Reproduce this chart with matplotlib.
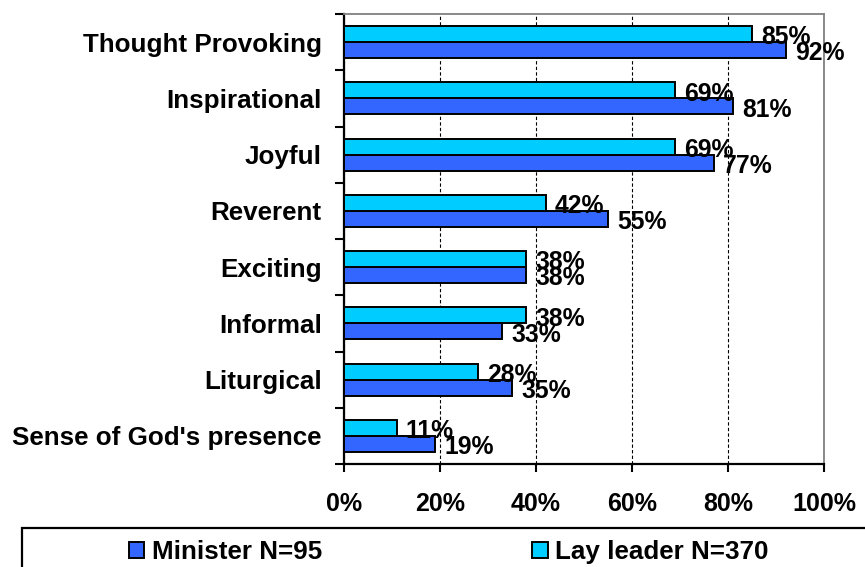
import numpy as np
import matplotlib.pyplot as plt
from matplotlib.patches import Rectangle

plt.rcParams['font.family'] = ['Liberation Sans', 'DejaVu Sans']
plt.rcParams['font.weight'] = 'bold'

# data (top to bottom)
categories = ["Thought Provoking", "Inspirational", "Joyful", "Reverent",
              "Exciting", "Informal", "Liturgical", "Sense of God's presence"]
lay_leader = [85, 69, 69, 42, 38, 38, 28, 11]
minister = [92, 81, 77, 55, 38, 33, 35, 19]
xticks = [0, 20, 40, 60, 80, 100]

c_min = "#3366FF"
c_lay = "#00CCFF"

fig = plt.figure(figsize=(8.65, 5.67), dpi=100)
ax = fig.add_axes([344 / 865, 1 - 464 / 567, 480 / 865, 450 / 567])

y = np.arange(len(categories))
h = 0.285
b_min = ax.barh(y + h / 2, minister, height=h, color=c_min, edgecolor="black",
                linewidth=1.4, label="Minister N=95", zorder=3)
b_lay = ax.barh(y - h / 2, lay_leader, height=h, color=c_lay, edgecolor="black",
                linewidth=1.4, label="Lay leader N=370", zorder=3)

for bars, vals in [(b_lay, lay_leader), (b_min, minister)]:
    for rect, v in zip(bars, vals):
        ax.annotate(f"{v}%", (rect.get_width(), rect.get_y() + rect.get_height() / 2),
                    xytext=(6.5, -0.5), textcoords="offset points", va="center_baseline",
                    ha="left", fontsize=17.8, fontweight="bold", zorder=5,
                    annotation_clip=False)

ax.set_xlim(0, 100)
ax.set_ylim(len(categories) - 0.5, -0.5)
ax.set_xticks(xticks)
ax.set_xticklabels([f"{t}%" for t in xticks], fontsize=18, fontweight="bold")
ax.set_yticks(y)
ax.set_yticklabels(categories, fontsize=18.7, fontweight="bold")
ax.set_yticks(np.arange(len(categories) + 1) - 0.5, minor=True)
ax.tick_params(axis="y", which="major", length=0, pad=16)
ax.tick_params(axis="y", which="minor", length=6.5, width=1.5, direction="out")
ax.tick_params(axis="x", length=6, width=1.5, pad=14)

ax.grid(axis="x", color="black", linestyle=(0, (3, 2)), linewidth=0.8, zorder=0)
for sp in ["top", "right"]:
    ax.spines[sp].set_color("#808080")
    ax.spines[sp].set_linewidth(1.3)
for sp in ["left", "bottom"]:
    ax.spines[sp].set_color("black")
    ax.spines[sp].set_linewidth(1.6)

# legend frame, running off the bottom/right of the image
fig.patches.append(Rectangle((22 / 865, -0.1), 1.0, 0.1 + (567 - 528) / 567,
                             transform=fig.transFigure, fill=False,
                             edgecolor="black", linewidth=1.6))
fig.legend(handles=[b_min, b_lay], loc="center left",
           bbox_to_anchor=(129 / 865, 1 - 552 / 567), ncol=2, frameon=False,
           prop={"size": 18.7, "weight": "bold"}, handlelength=0.58,
           handleheight=0.58, handletextpad=0.3, columnspacing=8.1,
           borderpad=0, borderaxespad=0)

fig.savefig("out.png", dpi=100)
